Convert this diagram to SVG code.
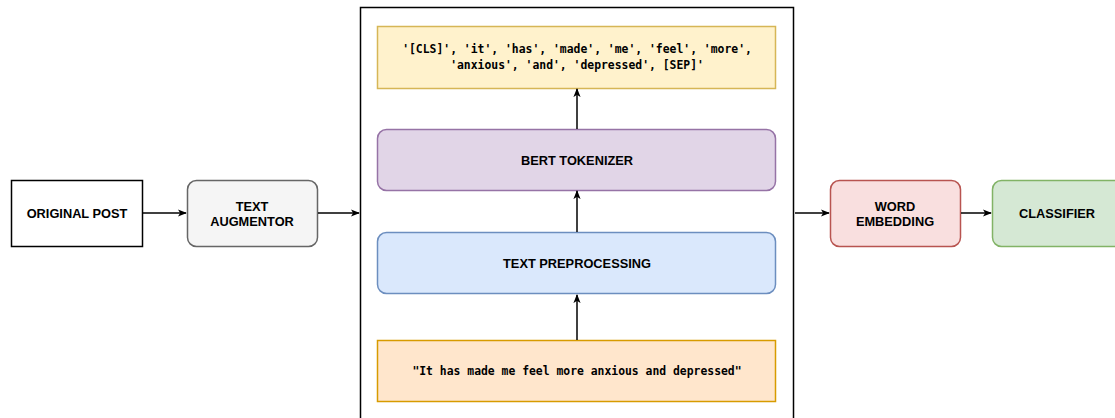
<svg xmlns="http://www.w3.org/2000/svg" width="1115" height="418" viewBox="0 0 1115 418">
<defs>
<marker id="ah" viewBox="0 0 10 10" refX="9" refY="5" markerWidth="9" markerHeight="9" orient="auto" markerUnits="userSpaceOnUse">
<path d="M0,1 L10,5 L0,9 L2.5,5 Z" fill="#000"/>
</marker>
<style>
.lbl{font-family:"Liberation Sans",Arial,sans-serif;font-size:12.8px;font-weight:bold;fill:#000;text-anchor:middle;dominant-baseline:central}
.mono{font-family:"DejaVu Sans Mono","Liberation Mono",monospace;font-size:11.4px;font-weight:bold;fill:#000;text-anchor:middle;dominant-baseline:central}
.edge{stroke:#000;stroke-width:1.5;fill:none;marker-end:url(#ah)}
</style>
</defs>
<rect width="1115" height="418" fill="#fff"/>
<g id="container"><rect x="360.5" y="7.5" width="433" height="420" fill="#fff" stroke="#000" stroke-width="1.5"/></g>
<g id="tokens"><rect x="377.5" y="26.5" width="398" height="62" fill="#fff2cc" stroke="#d6b656" stroke-width="1.5"/>
<text class="mono" x="577" y="49">'[CLS]', 'it', 'has', 'made', 'me', 'feel', 'more',</text>
<text class="mono" x="577" y="65">'anxious', 'and', 'depressed', [SEP]'</text></g>
<g id="bert"><rect x="377.5" y="129.5" width="398" height="61" rx="9" fill="#e1d5e7" stroke="#9673a6" stroke-width="1.5"/><text class="lbl" x="577" y="160">BERT TOKENIZER</text></g>
<g id="prep"><rect x="377.5" y="232.5" width="398" height="61" rx="9" fill="#dae8fc" stroke="#6c8ebf" stroke-width="1.5"/><text class="lbl" x="577" y="263">TEXT PREPROCESSING</text></g>
<g id="sentence"><rect x="377.5" y="340.5" width="398" height="61" fill="#ffe6cc" stroke="#d79b00" stroke-width="1.5"/><text class="mono" x="577" y="371">"It has made me feel more anxious and depressed"</text></g>
<g id="orig"><rect x="11.5" y="180.5" width="131" height="66" fill="#fff" stroke="#000" stroke-width="1.5"/><text class="lbl" x="77" y="213">ORIGINAL POST</text></g>
<g id="aug"><rect x="187.5" y="180.5" width="130" height="66" rx="9" fill="#f5f5f5" stroke="#666" stroke-width="1.5"/><text class="lbl" x="252" y="206">TEXT</text><text class="lbl" x="252" y="221">AUGMENTOR</text></g>
<g id="embed"><rect x="830.5" y="180.5" width="130" height="66" rx="9" fill="#f9dfdf" stroke="#b85450" stroke-width="1.5"/><text class="lbl" x="895" y="206">WORD</text><text class="lbl" x="895" y="221">EMBEDDING</text></g>
<g id="clf"><rect x="992.5" y="180.5" width="130" height="66" rx="9" fill="#d5e8d4" stroke="#82b366" stroke-width="1.5"/><text class="lbl" x="1057" y="213">CLASSIFIER</text></g>
<g id="connectors">
<line class="edge" x1="143" y1="213" x2="186" y2="213"/>
<line class="edge" x1="318" y1="213" x2="359" y2="213"/>
<line class="edge" x1="795" y1="213" x2="829" y2="213"/>
<line class="edge" x1="961" y1="213" x2="991" y2="213"/>
<line class="edge" x1="577" y1="340" x2="577" y2="295"/>
<line class="edge" x1="577" y1="232" x2="577" y2="191"/>
<line class="edge" x1="577" y1="129" x2="577" y2="89"/>
</g>
</svg>
